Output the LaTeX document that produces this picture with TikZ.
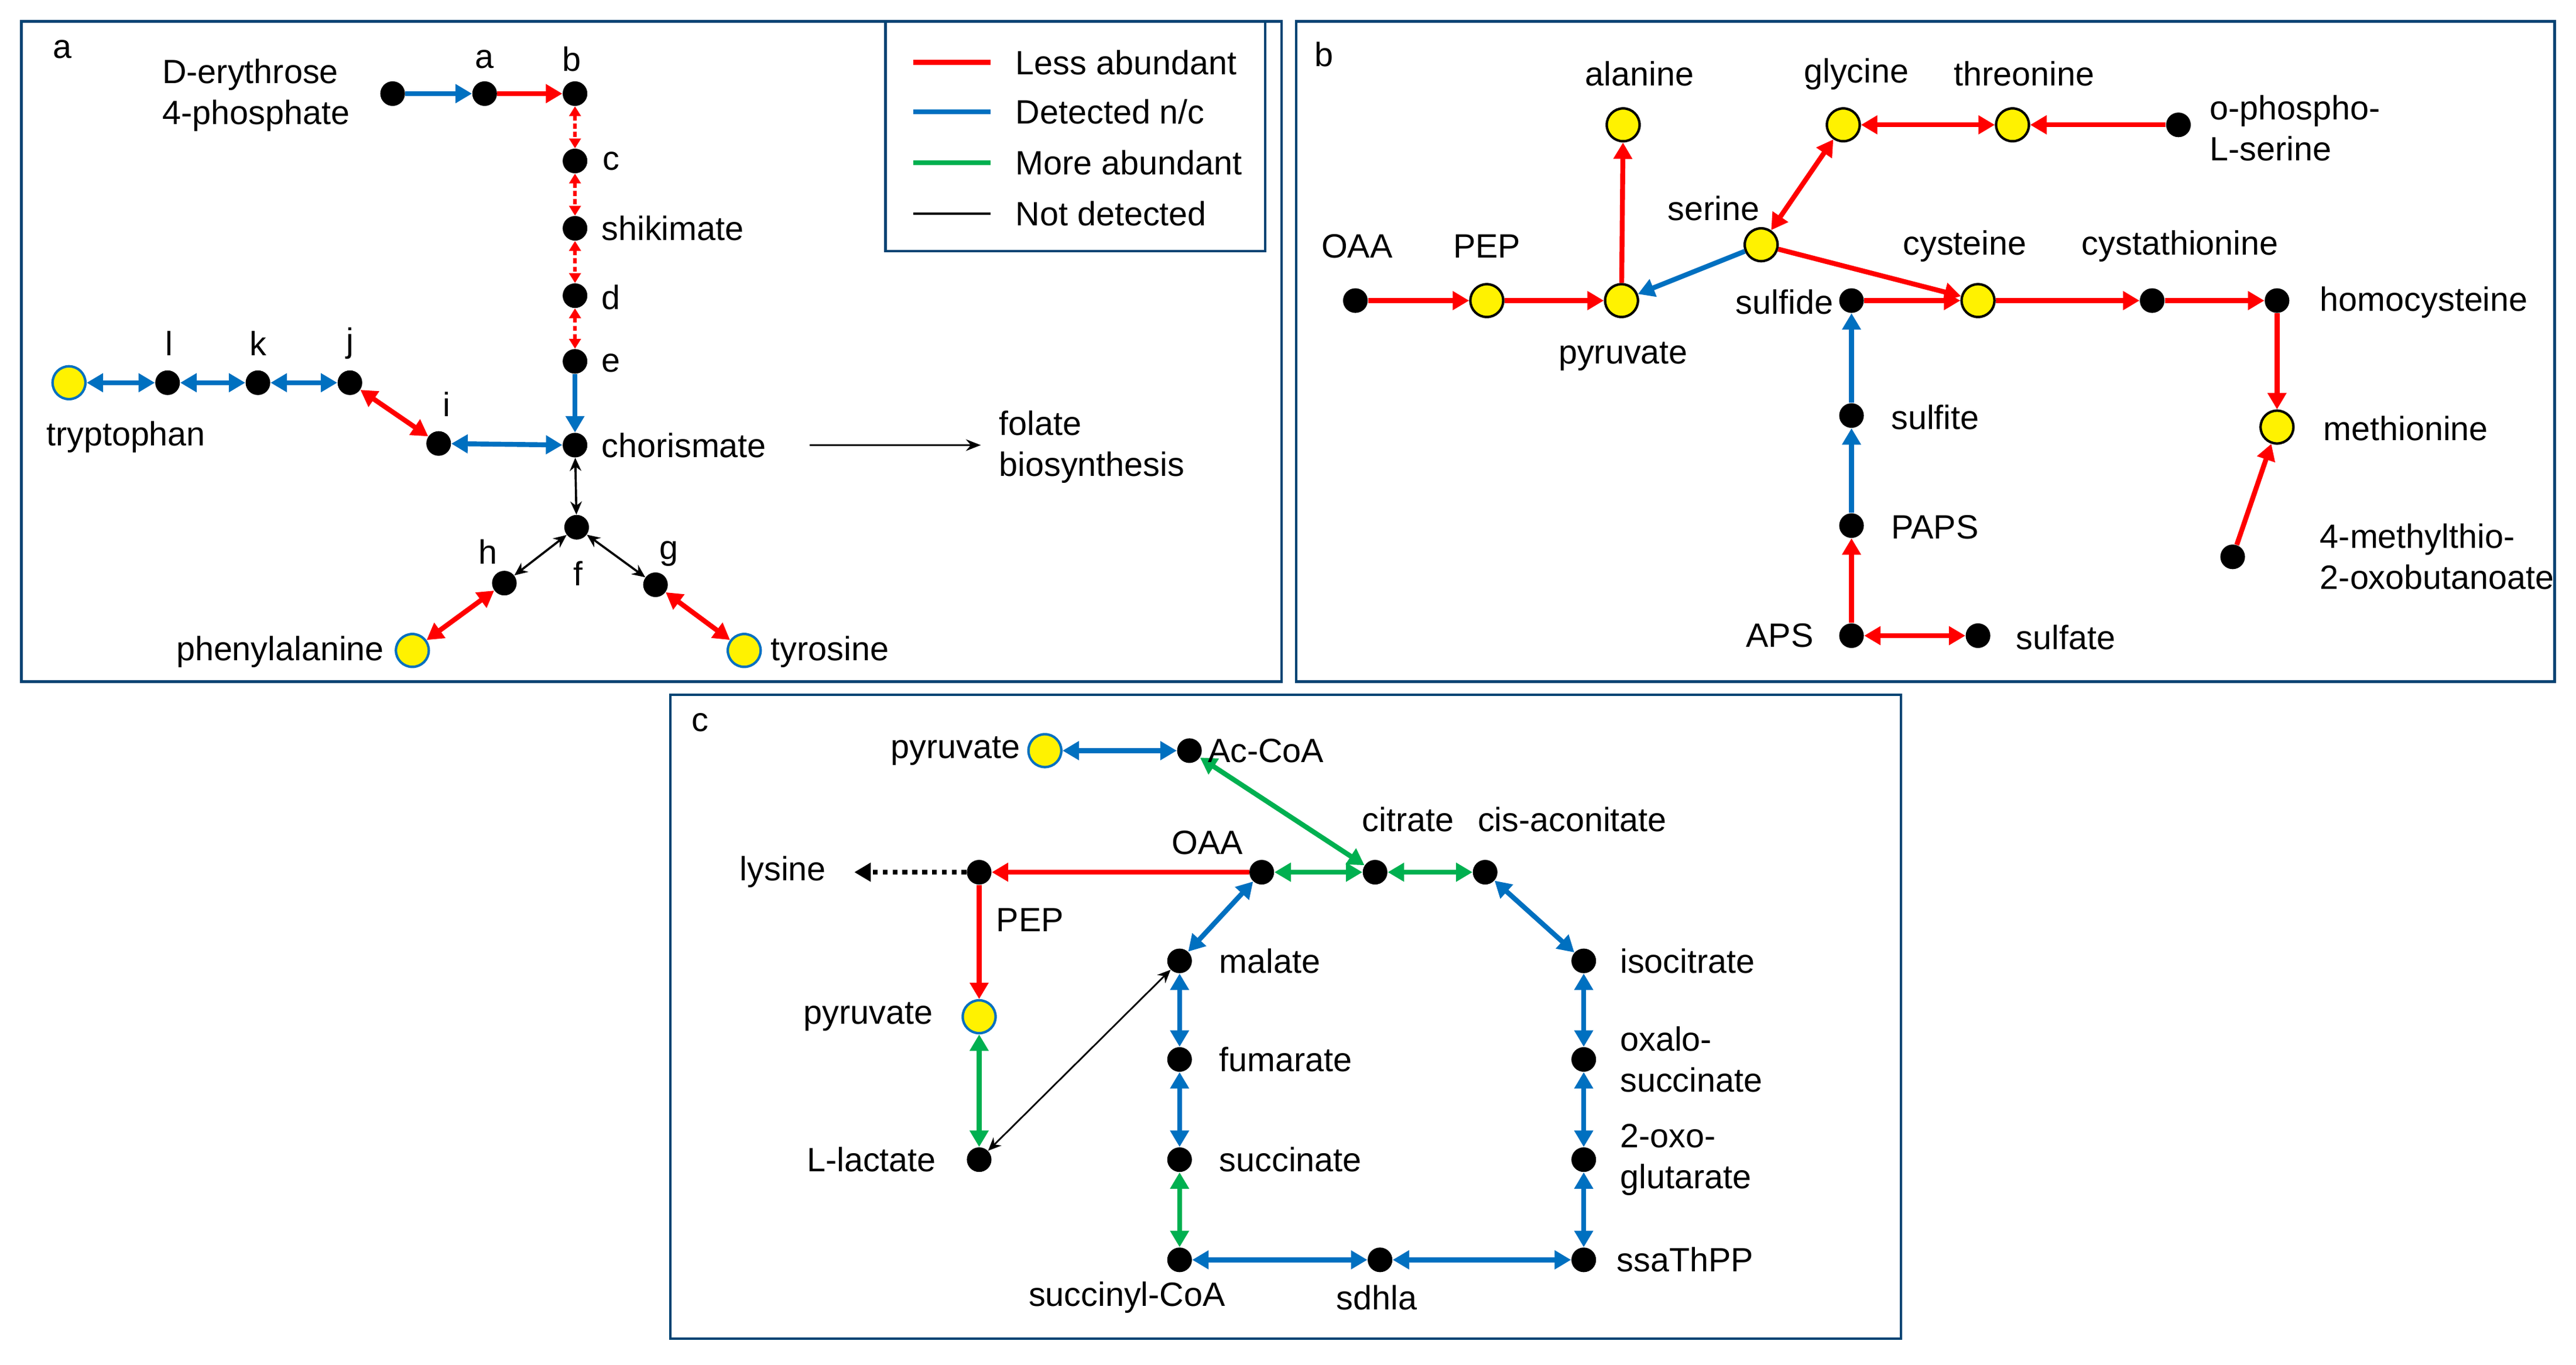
\documentclass[tikz,border=0pt]{standalone}
\usepackage{fontspec}
\setmainfont{Liberation Sans}
\usetikzlibrary{arrows.meta}
\definecolor{cred}{RGB}{255,0,0}
\definecolor{cblue}{RGB}{0,112,192}
\definecolor{cgreen}{RGB}{0,176,80}
\begin{document}
\begin{tikzpicture}[x=1pt,y=-1pt,
 dot/.style={circle,fill=black,minimum size=15pt,inner sep=0},
 yd/.style={circle,fill=yellow,draw=black,line width=1.5pt,minimum size=20pt,inner sep=0},
 ydb/.style={yd,draw=cblue},
 lbl/.style={font=\fontsize{20.5}{25}\selectfont,inner sep=0,align=left},
 box/.style={draw=cblue!60!black,line width=1.5pt},
 a1/.style={line width=3pt,-{Triangle[length=10pt,width=11pt]}},
 a2/.style={line width=3pt,{Triangle[length=10pt,width=11pt]}-{Triangle[length=10pt,width=11pt]}},
 ad/.style={line width=2pt,dash pattern=on 3pt off 2pt,{Triangle[length=6pt,width=7pt]}-{Triangle[length=6pt,width=7pt]}},
 k2/.style={line width=1.3pt,{Stealth[length=8pt,width=7pt]}-{Stealth[length=8pt,width=7pt]}},
 R/.style={cred}, B/.style={cblue}, G/.style={cgreen}]
\useasboundingbox (0,0) rectangle (1568,831);
\fill[white] (0,0) rectangle (1568,831);
% boxes
\draw[box] (13,13) rectangle (780,415);
\draw[box] (789,13) rectangle (1555,415);
\draw[box] (408,423) rectangle (1157,815);
\draw[box] (539,13) rectangle (770,153);
% legend
\coordinate (l1a) at (556,38); \coordinate (l1b) at (603,38);
\coordinate (l2a) at (556,68); \coordinate (l2b) at (603,68);
\coordinate (l3a) at (556,99); \coordinate (l3b) at (603,99);
\coordinate (l4a) at (556,130); \coordinate (l4b) at (603,130);
\draw[cred,line width=3pt] (l1a)--(l1b);
\draw[cblue,line width=3pt] (l2a)--(l2b);
\draw[cgreen,line width=3pt] (l3a)--(l3b);
\draw[black,line width=1.5pt] (l4a)--(l4b);
\node[lbl,anchor=west] (t1) at (618,38) {Less abundant};
\node[lbl,anchor=west] (t2) at (618,68) {Detected n/c};
\node[lbl,anchor=west] (t3) at (618,99) {More abundant};
\node[lbl,anchor=west] (t4) at (618,130) {Not detected};
% ---------- panel a
\node[lbl] (pa) at (38,30) {a};
\node[dot] (e4p) at (239,57) {};
\node[dot] (na) at (295,57) {};
\node[dot] (nb) at (350,57) {};
\node[dot] (nc) at (350,98) {};
\node[dot] (shk) at (350,139) {};
\node[dot] (nd) at (350,180) {};
\node[dot] (ne) at (350,220) {};
\node[dot] (cho) at (350,271) {};
\node[dot] (nf) at (351,321) {};
\node[dot] (nh) at (307,355) {};
\node[dot] (ng) at (399,356) {};
\node[ydb] (phe) at (251,396) {};
\node[ydb] (tyr) at (453,396) {};
\node[dot] (ni) at (267,270) {};
\node[dot] (nj) at (213,233) {};
\node[dot] (nk) at (157,233) {};
\node[dot] (nl) at (102,233) {};
\node[ydb] (trp) at (42,233) {};
\coordinate (fs) at (493,271); \coordinate (fe) at (597,271);
\draw[a1,B] (e4p)--(na);
\draw[a1,R] (na)--(nb);
\draw[ad,R] (nb)--(nc);
\draw[ad,R] (nc)--(shk);
\draw[ad,R] (shk)--(nd);
\draw[ad,R] (nd)--(ne);
\draw[a1,B] (ne)--(cho);
\draw[k2] (cho)--(nf);
\draw[k2] (nf)--(nh);
\draw[k2] (nf)--(ng);
\draw[a2,R] (nh)--(phe);
\draw[a2,R] (ng)--(tyr);
\draw[a2,B] (cho)--(ni);
\draw[a2,R] (ni)--(nj);
\draw[a2,B] (nj)--(nk);
\draw[a2,B] (nk)--(nl);
\draw[a2,B] (nl)--(trp);
\draw[line width=1.3pt,-{Stealth[length=9pt,width=7pt]}] (fs)--(fe);
\node[lbl,anchor=east,align=left] (le4p) at (213,58) {D-erythrose\\4-phosphate};
\node[lbl] (la) at (295,36) {a};
\node[lbl] (lb) at (348,36) {b};
\node[lbl] (lc) at (372,98) {c};
\node[lbl,anchor=west] (lshk) at (366,139) {shikimate};
\node[lbl] (ld) at (372,181) {d};
\node[lbl] (le) at (372,221) {e};
\node[lbl,anchor=west] (lcho) at (366,271) {chorismate};
\node[lbl] (lf) at (352,349) {f};
\node[lbl] (lh) at (297,336) {h};
\node[lbl] (lg) at (407,337) {g};
\node[lbl,anchor=east] (lphe) at (234,397) {phenylalanine};
\node[lbl,anchor=west] (ltyr) at (469,397) {tyrosine};
\node[lbl] (li) at (272,246) {i};
\node[lbl] (lj) at (213,209) {j};
\node[lbl] (lk) at (157,209) {k};
\node[lbl] (ll) at (103,209) {l};
\node[lbl,anchor=west] (ltrp) at (28,266) {tryptophan};
\node[lbl,anchor=west] (lfol) at (608,272) {folate\\biosynthesis};
% ---------- panel b
\node[lbl] (pb) at (806,33) {b};
\node[dot] (oaa) at (825,183) {};
\node[yd] (pep) at (905,183) {};
\node[yd] (pyr) at (987,183) {};
\node[yd] (ala) at (988,76) {};
\node[yd] (ser) at (1072,149) {};
\node[yd] (gly) at (1122,76) {};
\node[yd] (thr) at (1225,76) {};
\node[dot] (ops) at (1326,76) {};
\node[dot] (sfd) at (1127,183) {};
\node[yd] (cys) at (1204,183) {};
\node[dot] (cth) at (1310,183) {};
\node[dot] (hcy) at (1386,183) {};
\node[yd] (met) at (1386,260) {};
\node[dot] (mtb) at (1359,339) {};
\node[dot] (sft) at (1127,253) {};
\node[dot] (paps) at (1127,320) {};
\node[dot] (aps) at (1127,387) {};
\node[dot] (sfa) at (1204,387) {};
\draw[a1,R] (oaa)--(pep);
\draw[a1,R] (pep)--(pyr);
\draw[a1,R] (pyr)--(ala);
\draw[a1,B] (ser)--(pyr);
\draw[a2,R] (ser)--(gly);
\draw[a2,R] (gly)--(thr);
\draw[a1,R] (ops)--(thr);
\draw[a1,R] (ser)--(cys);
\draw[a1,R] (sfd)--(cys);
\draw[a1,R] (cys)--(cth);
\draw[a1,R] (cth)--(hcy);
\draw[a1,R] (hcy)--(met);
\draw[a1,R] (mtb)--(met);
\draw[a1,B] (sft)--(sfd);
\draw[a1,B] (paps)--(sft);
\draw[a1,R] (aps)--(paps);
\draw[a2,R] (aps)--(sfa);
\node[lbl] (lala) at (998,45) {alanine};
\node[lbl] (lgly) at (1130,45) {glycine};
\node[lbl] (lthr) at (1232,45) {threonine};
\node[lbl,anchor=west] (lops) at (1345,78) {o-phospho-\\L-serine};
\node[lbl] (lser) at (1043,127) {serine};
\node[lbl] (loaa) at (826,150) {OAA};
\node[lbl] (lpep) at (905,150) {PEP};
\node[lbl] (lpyr) at (988,217) {pyruvate};
\node[lbl,anchor=east] (lsfd) at (1116,184) {sulfide};
\node[lbl] (lcys) at (1196,150) {cysteine};
\node[lbl] (lcth) at (1327,150) {cystathionine};
\node[lbl,anchor=west] (lhcy) at (1412,184) {homocysteine};
\node[lbl,anchor=west] (lmet) at (1414,261) {methionine};
\node[lbl,anchor=west] (lmtb) at (1412,339) {4-methylthio-\\2-oxobutanoate};
\node[lbl,anchor=west] (lsft) at (1151,254) {sulfite};
\node[lbl,anchor=west] (lpaps) at (1151,321) {PAPS};
\node[lbl,anchor=east] (laps) at (1104,387) {APS};
\node[lbl,anchor=west] (lsfa) at (1227,388) {sulfate};
% ---------- panel c
\node[lbl] (pc) at (426,440) {c};
\node[ydb] (cpyr) at (636,457) {};
\node[dot] (acoa) at (724,457) {};
\node[dot] (coaa) at (768,531) {};
\node[dot] (cit) at (837,531) {};
\node[dot] (cis) at (904,531) {};
\node[dot] (cpep) at (596,531) {};
\coordinate (lys) at (520,531);
\node[ydb] (cpyr2) at (596,619) {};
\node[dot] (lac) at (596,706) {};
\node[dot] (mal) at (718,585) {};
\node[dot] (fum) at (718,645) {};
\node[dot] (suc) at (718,706) {};
\node[dot] (scoa) at (718,767) {};
\node[dot] (sdh) at (840,767) {};
\node[dot] (ssa) at (964,767) {};
\node[dot] (oxg) at (964,706) {};
\node[dot] (oxs) at (964,645) {};
\node[dot] (icit) at (964,585) {};
\draw[a2,B] (cpyr)--(acoa);
\draw[a2,G] (acoa)--(cit);
\draw[a2,G] (coaa)--(cit);
\draw[a2,G] (cit)--(cis);
\draw[a2,B] (cis)--(icit);
\draw[a2,B] (icit)--(oxs);
\draw[a2,B] (oxs)--(oxg);
\draw[a2,B] (oxg)--(ssa);
\draw[a2,B] (ssa)--(sdh);
\draw[a2,B] (sdh)--(scoa);
\draw[a2,G] (scoa)--(suc);
\draw[a2,B] (suc)--(fum);
\draw[a2,B] (fum)--(mal);
\draw[a2,B] (mal)--(coaa);
\draw[a1,R] (coaa)--(cpep);
\draw[line width=3pt,dash pattern=on 3pt off 3pt,-{Triangle[length=10pt,width=11pt]}] (cpep)--(lys);
\draw[a1,R] (cpep)--(cpyr2);
\draw[a2,G] (cpyr2)--(lac);
\draw[k2,line width=1pt] (mal)--(lac);
\node[lbl,anchor=east] (lcpyr) at (621,457) {pyruvate};
\node[lbl,anchor=west] (lacoa) at (735,457) {Ac-CoA};
\node[lbl] (lcoaa) at (735,513) {OAA};
\node[lbl] (lcit) at (857,499) {citrate};
\node[lbl] (lcis) at (957,499) {cis-aconitate};
\node[lbl,anchor=east] (llys) at (503,531) {lysine};
\node[lbl] (lcpep) at (627,560) {PEP};
\node[lbl,anchor=east] (lcpyr2) at (568,619) {pyruvate};
\node[lbl,anchor=east] (llac) at (570,706) {L-lactate};
\node[lbl,anchor=west] (lmal) at (742,585) {malate};
\node[lbl,anchor=west] (lfum) at (742,645) {fumarate};
\node[lbl,anchor=west] (lsuc) at (742,706) {succinate};
\node[lbl] (lscoa) at (686,790) {succinyl-CoA};
\node[lbl] (lsdh) at (838,790) {sdhla};
\node[lbl,anchor=west] (lssa) at (984,767) {ssaThPP};
\node[lbl,anchor=west] (loxg) at (986,706) {2-oxo-\\glutarate};
\node[lbl,anchor=west] (loxs) at (986,645) {oxalo-\\succinate};
\node[lbl,anchor=west] (licit) at (986,585) {isocitrate};
\end{tikzpicture}
\end{document}
